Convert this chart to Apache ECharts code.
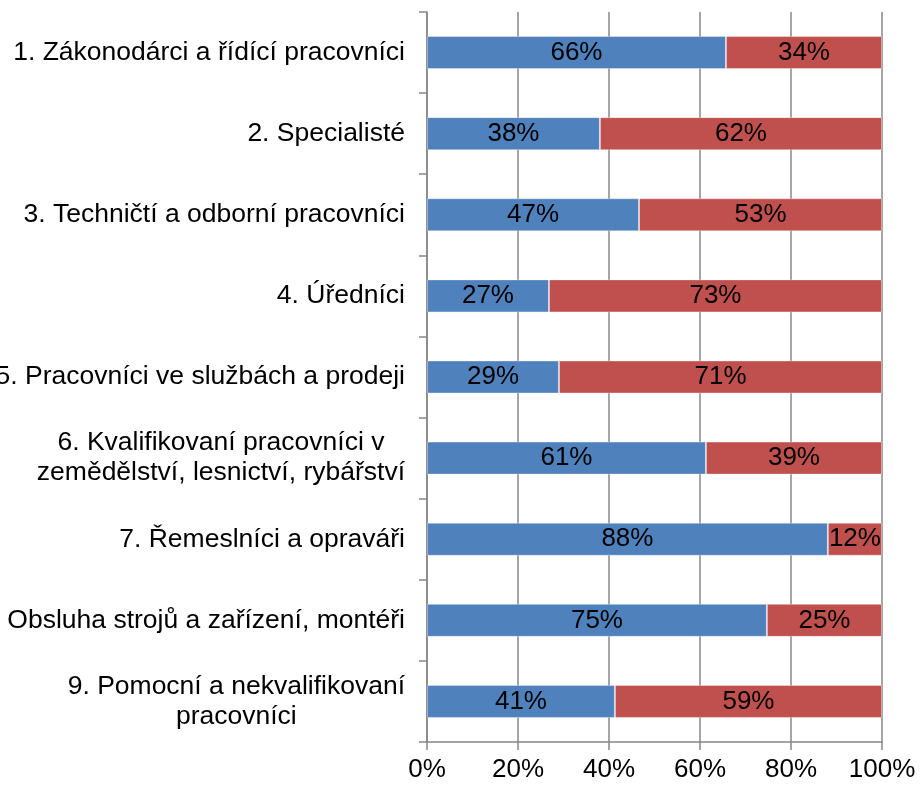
<!DOCTYPE html>
<html>
<head>
<meta charset="utf-8">
<script src="https://cdn.jsdelivr.net/npm/echarts@6/dist/echarts.min.js"></script>
<style>html,body{margin:0;padding:0;background:#fff}#c{width:920px;height:786px}</style>
</head>
<body>
<div id="c"></div>
<script>
const categories = [
  "1. Zákonodárci a řídící pracovníci",
  "2. Specialisté",
  "3. Techničtí a odborní pracovníci",
  "4. Úředníci",
  "5. Pracovníci ve službách a prodeji",
  "6. Kvalifikovaní pracovníci v\nzemědělství, lesnictví, rybářství",
  "7. Řemeslníci a opraváři",
  "8. Obsluha strojů a zařízení, montéři",
  "9. Pomocní a nekvalifikovaní\npracovníci"
];
const blueValues = [65.7, 38.0, 46.6, 26.8, 29.0, 61.3, 88.1, 74.7, 41.3];
const redValues  = [34.3, 62.0, 53.4, 73.2, 71.0, 38.7, 11.9, 25.3, 58.7];
const xTicks = [0, 20, 40, 60, 80, 100];

const chart = echarts.init(document.getElementById('c'), null, {renderer: 'canvas'});
const font = 'Liberation Sans, Arial, sans-serif';
const gridColor = '#878787';
const fs = 26;
const labelCfg = {
  show: true, position: 'inside', color: '#000', fontSize: fs, fontFamily: font,
  formatter: p => Math.round(p.value) + '%'
};
chart.setOption({
  animation: false,
  grid: {left: 427, top: 12, width: 455, height: 730, containLabel: false, outerBoundsMode: 'none'},
  xAxis: {
    type: 'value', min: xTicks[0], max: xTicks[xTicks.length - 1], interval: 20,
    axisLine: {show: true, lineStyle: {color: gridColor, width: 1.5}},
    axisTick: {show: true, length: 8, lineStyle: {color: gridColor, width: 1.5}},
    splitLine: {show: true, lineStyle: {color: gridColor, width: 1.5}},
    axisLabel: {color: '#000', fontSize: fs, fontFamily: font, margin: 15, formatter: v => v + '%'}
  },
  yAxis: {
    type: 'category', inverse: true, data: categories,
    axisLine: {show: true, lineStyle: {color: gridColor, width: 1.5}},
    axisTick: {show: true, length: 8, lineStyle: {color: gridColor, width: 1.5}},
    axisLabel: {
      color: '#000', fontSize: 26.5, fontFamily: font, margin: 22,
      formatter: v => '{c|' + v + '}',
      rich: {c: {align: 'center', fontSize: 26.5, fontFamily: font, color: '#000', lineHeight: 30}}
    }
  },
  series: [
    {type: 'bar', stack: 't', data: blueValues, barWidth: 33,
     itemStyle: {color: '#4F81BD', borderColor: 'rgba(255,255,255,0.35)', borderWidth: 1}, label: labelCfg},
    {type: 'bar', stack: 't', data: redValues, barWidth: 33,
     itemStyle: {color: '#C0504D', borderColor: 'rgba(255,255,255,0.35)', borderWidth: 1}, label: labelCfg}
  ]
});
</script>
</body>
</html>
